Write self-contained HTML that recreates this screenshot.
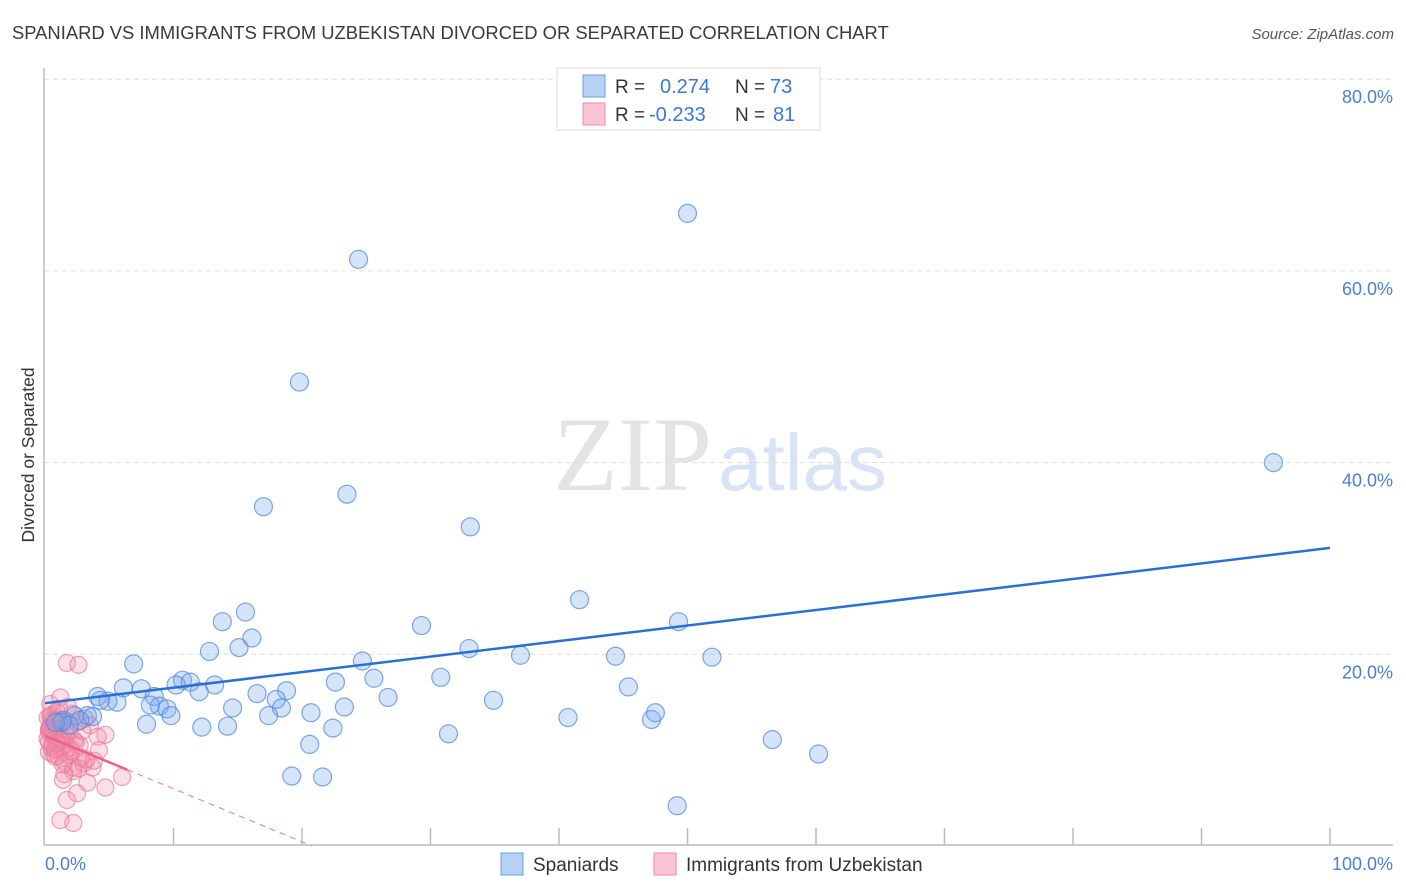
<!DOCTYPE html>
<html><head><meta charset="utf-8"><style>
body{margin:0;background:#fff;font-family:"Liberation Sans",sans-serif;}
svg{display:block}
</style></head><body>
<svg id="chart" width="1406" height="892" xmlns="http://www.w3.org/2000/svg">
<text x="12" y="39" font-size="18.4" fill="#3a3a3a">SPANIARD VS IMMIGRANTS FROM UZBEKISTAN DIVORCED OR SEPARATED CORRELATION CHART</text>
<text x="1394" y="39" font-size="15" fill="#555" font-style="italic" text-anchor="end">Source: ZipAtlas.com</text>
<g>
<text x="553" y="490" font-size="106" font-family="Liberation Serif,serif" fill="#e4e4e4">ZIP</text>
<text x="718" y="490" font-size="80" fill="#d8e4f6">atlas</text>
</g>
<g id="grid"></g>
<line x1="44" y1="68" x2="44" y2="845" stroke="#bbb" stroke-width="1.5"/>
<line x1="44" y1="845" x2="1393" y2="845" stroke="#bbb" stroke-width="1.5"/>
<g id="xticks"></g>
<text x="45" y="870" font-size="18" fill="#4a7fd6">0.0%</text>
<text x="1393" y="870" font-size="18" fill="#4a7fd6" text-anchor="end">100.0%</text>
<text transform="translate(34,455) rotate(-90)" font-size="17.5" fill="#333" text-anchor="middle">Divorced or Separated</text>
<g id="lines"></g>
<g id="pts"></g>
<g>
<rect x="557" y="68" width="263" height="62" fill="#fff" stroke="#ddd"/>
<rect x="583" y="75" width="22" height="22" fill="#b8d2f5" stroke="#6a9de0"/>
<rect x="583" y="103" width="22" height="22" fill="#f9c4d4" stroke="#ee8aa8"/>
<text x="615" y="93" font-size="19" fill="#333">R =</text>
<text x="660" y="93" font-size="20" fill="#3a78d8">0.274</text>
<text x="735" y="93" font-size="19" fill="#333">N =</text>
<text x="770" y="93" font-size="20" fill="#3a78d8">73</text>
<text x="615" y="121" font-size="19" fill="#333">R =</text>
<text x="649" y="121" font-size="20" fill="#3a78d8">-0.233</text>
<text x="735" y="121" font-size="19" fill="#333">N =</text>
<text x="773" y="121" font-size="20" fill="#3a78d8">81</text>
</g>
<g>
<rect x="501" y="853" width="22" height="22" fill="#b8d2f5" stroke="#6a9de0"/>
<text x="533" y="871" font-size="19" fill="#333">Spaniards</text>
<rect x="654" y="853" width="22" height="22" fill="#f9c4d4" stroke="#ee8aa8"/>
<text x="686" y="871" font-size="19" fill="#333">Immigrants from Uzbekistan</text>
</g>
</svg>
<script>
const yTicks=[20,40,60,80];
const yTickLabels=["20.0%","40.0%","60.0%","80.0%"];
const xTicks=[10,20,30,40,50,60,70,80,90,100];
const blueX=[50.0,24.4,19.8,95.6,23.5,17.0,33.1,41.6,49.3,29.3,15.6,13.8,16.1,15.1,12.8,33.0,37.0,44.4,51.9,6.9,24.7,10.7,11.3,10.2,6.1,7.5,4.1,4.9,5.6,8.5,8.9,9.5,12.0,13.2,22.6,25.6,30.8,18.8,16.5,18.0,18.4,26.7,34.9,45.4,14.6,17.4,9.8,20.7,23.3,7.9,12.2,14.2,40.7,47.2,47.5,22.4,3.3,2.3,3.7,1.4,2.7,31.4,20.6,56.6,60.2,19.2,21.6,49.2,1.3,1.9,0.8,4.3,8.2];
const blueY=[66.0,61.2,48.4,40.0,36.7,35.4,33.3,25.7,23.4,23.0,24.4,23.4,21.7,20.7,20.3,20.6,19.9,19.8,19.7,19.0,19.3,17.3,17.1,16.8,16.5,16.4,15.6,15.1,15.0,15.6,14.6,14.3,16.1,16.8,17.1,17.5,17.6,16.2,15.9,15.3,14.4,15.5,15.2,16.6,14.4,13.6,13.6,13.9,14.5,12.7,12.4,12.5,13.4,13.2,13.9,12.3,13.6,13.6,13.5,13.1,13.1,11.7,10.6,11.1,9.6,7.3,7.2,4.2,12.9,12.6,12.9,15.2,14.7];
const pinkX=[1.7,2.6,4.7,4.1,6.0,4.7,3.3,1.2,2.2,1.7,2.5,1.4,3.7,2.2,0.5,0.8,1.0,1.2,0.3,0.6,1.5,2.0,0.4,0.9,1.1,0.7,1.3,1.8,0.2,0.5,2.4,2.8,3.0,0.6,1.0,1.4,1.6,0.3,0.8,2.1,3.5,4.2,0.4,1.2,0.9,1.9,2.3,0.5,0.7,1.5,2.6,3.2,0.2,1.1,1.7,0.6,0.9,1.3,2.0,0.4,1.6,2.9,0.3,0.8,1.0,1.4,0.5,2.2,3.8,1.8,0.7,1.2,2.5,0.6,0.9,0.3,1.1,2.7,1.5,0.4,3.1];
const pinkY=[19.1,18.9,11.6,11.4,7.2,6.1,6.6,2.7,2.4,4.8,5.5,6.9,8.2,8.2,13.0,12.5,11.8,11.0,12.2,10.5,9.8,10.2,13.5,14.0,12.8,11.5,10.9,9.5,11.2,12.0,10.8,9.2,8.6,13.2,12.3,11.4,10.6,9.8,9.3,13.8,12.6,10.0,14.8,15.5,12.9,12.1,11.0,10.3,9.6,8.8,8.1,9.0,13.4,14.3,13.0,11.9,11.1,10.4,9.9,12.4,11.7,12.0,10.9,10.1,9.4,8.5,13.7,7.8,8.9,14.5,12.7,11.3,12.9,11.6,10.7,11.9,13.1,10.5,7.5,12.2,13.3];
const blueLine=[14.9,31.1];
const pinkLine=[11.5,-43.8];
const pinkSolidEnd=6.4;
const X=v=>45+v*12.85, Y=v=>846-v*9.585;
const NS="http://www.w3.org/2000/svg";
function mk(t,a,p){const e=document.createElementNS(NS,t);for(const k in a)e.setAttribute(k,a[k]);p.appendChild(e);return e;}
const g=document.getElementById('grid');
yTicks.forEach((t,i)=>{
 const l=mk('line',{x1:44,x2:1393,y1:Y(t),y2:Y(t),stroke:'#ddd','stroke-dasharray':'5,4'},g);
 
 
 const tx=mk('text',{x:1393,y:Y(t)+24,'font-size':18,fill:'#4a7fd6','text-anchor':'end'},g);
 tx.textContent=yTickLabels[i];
 
 
});
const xt=document.getElementById('xticks');
xTicks.forEach(t=>{
 const l=mk('line',{x1:X(t),x2:X(t),y1:828,y2:845,stroke:'#bbb','stroke-width':1.5},xt);
 
 
});
const pg=document.getElementById('pts');
pinkX.forEach((x,i)=>{
 const c=mk('circle',{cx:X(x),cy:Y(pinkY[i]),r:8.5,fill:'rgba(242,140,170,0.28)',stroke:'rgba(236,120,155,0.7)','stroke-width':1.2},pg);
 
 
});
blueX.forEach((x,i)=>{
 const c=mk('circle',{cx:X(x),cy:Y(blueY[i]),r:9,fill:'rgba(120,165,235,0.3)',stroke:'rgba(80,140,220,0.75)','stroke-width':1.2},pg);
 
 
});
const lg=document.getElementById('lines');
const bl=mk('line',{x1:X(0),y1:Y(blueLine[0]),x2:X(100),y2:Y(blueLine[1]),stroke:'#2a6fd6','stroke-width':2.5},pg);


const pAt=x=>pinkLine[0]+(pinkLine[1]-pinkLine[0])*x/100;
const zeroX=pinkLine[0]/(pinkLine[0]-pinkLine[1])*100;
const pd=mk('line',{x1:X(pinkSolidEnd),y1:Y(pAt(pinkSolidEnd)),x2:X(zeroX),y2:Y(0),stroke:'#ee8aa8','stroke-width':1.2,'stroke-dasharray':'6,5'},lg);


const ps=mk('line',{x1:X(0),y1:Y(pinkLine[0]),x2:X(pinkSolidEnd),y2:Y(pAt(pinkSolidEnd)),stroke:'#e8628c','stroke-width':2.5},pg);


</script>
</body></html>
